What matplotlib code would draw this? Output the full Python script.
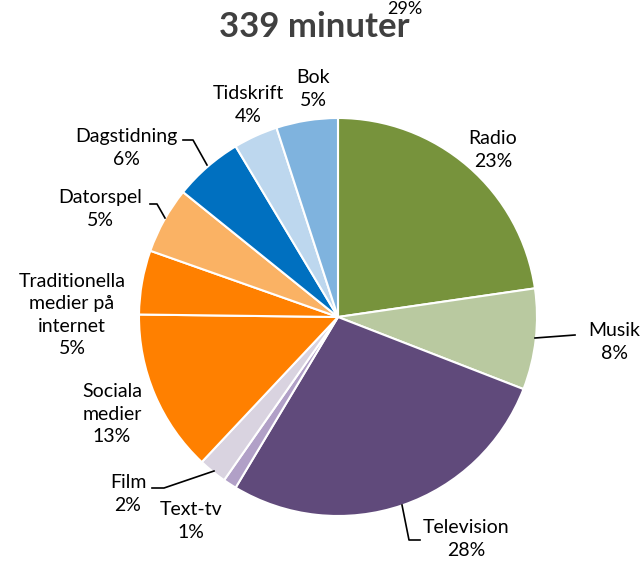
import matplotlib.pyplot as plt

# Share of 339 minutes of daily media use
categories = ["Radio", "Musik", "Television", "Text-tv", "Film", "Sociala\nmedier",
              "Traditionella\nmedier på\ninternet", "Datorspel", "Dagstidning",
              "Tidskrift", "Bok"]
values = [22.7, 8.2, 27.7, 1.1, 2.3, 13.2, 5.2, 5.4, 5.6, 3.6, 5.0]
colors = ["#77933C", "#B9C9A0", "#604A7B", "#B1A0C7", "#D9D3E0", "#FF8000",
          "#FF8000", "#FAB264", "#0070C0", "#BDD7EE", "#7FB3DE"]
title = "339 minuter"

W, H = 642, 563
fig = plt.figure(figsize=(W / 100, H / 100), dpi=100)
ax = fig.add_axes([0, 0, 1, 1])

font = "Lato"
col_txt = "#000000"

ax.pie(values, colors=colors, startangle=90, counterclock=False,
       center=(338, H - 317), radius=199, frame=True,
       wedgeprops=dict(edgecolor="white", linewidth=1.5))
ax.set_xlim(0, W)
ax.set_ylim(0, H)
ax.axis("off")

# label positions in pixel coordinates (x, y from top)
label_pos = [(493, 150), (614, 342), (466, 539), (191, 521), (128, 494),
             (112, 414), (72, 315), (100, 209), (126, 148), (248, 105), (313, 89)]
for name, v, (x, y) in zip(categories, values, label_pos):
    ax.text(x, H - y, f"{name}\n{round(v)}%", ha="center", va="center",
            fontsize=14, family=font, color=col_txt, linespacing=1.4)

# leader lines
leaders = [
    [(535, 338), (575, 335)],
    [(402, 505), (409, 540), (420, 540)],
    [(214, 471), (164, 488), (152, 488)],
    [(165, 218), (157, 204), (150, 204)],
    [(207, 165), (193, 140), (183, 140)],
]
for pts in leaders:
    ax.plot([p[0] for p in pts], [H - p[1] for p in pts], color="black", lw=1.2)

ax.text(314, H - 27, title, ha="center", va="center", fontsize=25,
        fontweight="bold", family=font, color="#404040")
ax.text(405, H - 9, "29%", ha="center", va="center", fontsize=13,
        family=font, color=col_txt)

fig.savefig("out.png", dpi=100)
